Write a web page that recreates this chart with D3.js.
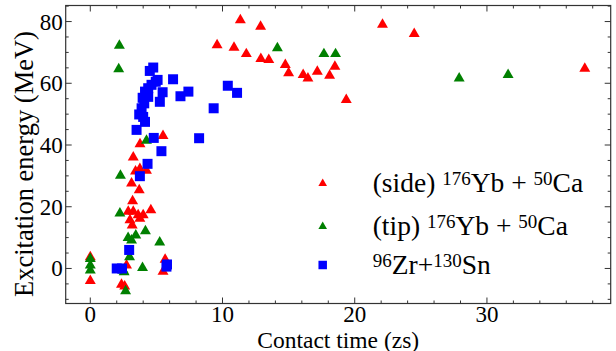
<!DOCTYPE html>
<html>
<head>
<meta charset="utf-8">
<script src="https://cdn.jsdelivr.net/npm/d3@7"></script>
<style>
  html, body { margin: 0; padding: 0; background: #fff; }
  svg { display: block; }
  svg text { font-family: "Liberation Serif", Tinos, "Nimbus Roman", FreeSerif, "DejaVu Serif", serif; }
</style>
</head>
<body>
<svg id="chart" width="616" height="351"></svg>
<script>
// Contact time (zs) vs excitation energy (MeV)
const sideYbCa = [
  [0, 3.7], [0, -4.0], [2.36, -5.2], [2.6, -5.8], [2.74, 1.0], [5.66, 2.9], [5.5, -1.0],
  [3.0, 15.7], [3.17, 14.0], [2.87, 18.4], [3.25, 18.4], [3.62, 17.3], [3.75, 16.2], [4.0, 17.3], [4.58, 18.9],
  [3.2, 21.8], [3.7, 25.4], [3.12, 27.6], [3.42, 31.5], [3.75, 32.3], [4.25, 31.7], [3.25, 36.0],
  [3.76, 40.3], [5.5, 43.0],
  [9.59, 72.4], [10.87, 71.6], [11.35, 80.5], [11.8, 69.5], [12.88, 78.4], [12.9, 67.9], [13.5, 67.6],
  [14.75, 66.0], [15.0, 63.3], [16.1, 62.7], [16.46, 61.6], [17.17, 63.8], [18.1, 62.5], [18.5, 65.4],
  [19.36, 54.6], [22.1, 79.0], [24.5, 76.0], [37.4, 64.8]
];
const tipYbCa = [
  [0, 3.1], [0, 1.0], [0, -0.6], [2.49, -0.6], [2.56, -1.2], [2.67, -7.3], [3.95, 0.2], [2.97, 3.7],
  [2.86, 9.9], [3.44, 10.7], [3.12, 9.1], [4.17, 12.1], [5.25, 8.5], [2.24, 17.9], [2.28, 30.1],
  [4.25, 41.4], [2.15, 64.6], [2.2, 72.2], [14.15, 71.4], [17.67, 69.5], [18.55, 69.5], [27.9, 61.6], [31.6, 62.7]
];
const zrSn = [
  [2.0, 0.0], [2.4, 0.0], [5.76, 0.6], [5.8, 1.3], [2.94, 6.0], [3.75, 29.9], [4.33, 33.9], [5.38, 38.0],
  [4.8, 42.3], [8.23, 42.2], [3.5, 44.9], [4.14, 47.5], [4.0, 49.1], [3.7, 49.9], [3.88, 51.9], [4.08, 53.5],
  [3.96, 55.3], [4.38, 55.6], [4.14, 57.3], [4.38, 58.4], [4.63, 59.5], [4.95, 60.5], [5.09, 61.1],
  [4.5, 64.0], [4.76, 65.1], [5.47, 57.1], [5.26, 54.0], [6.26, 61.3], [7.42, 57.3], [6.82, 55.8],
  [9.33, 51.9], [10.4, 59.2], [11.1, 56.9]
];
const xTicks = [0, 10, 20, 30];
const yTicks = [0, 20, 40, 60, 80];
const xLabel = "Contact time (zs)";
const yLabel = "Excitation energy (MeV)";

const svg = d3.select("#chart");
const pLeft = 65.7, pRight = 610.7, pTop = 5.5, pBottom = 303.5;

const x = d3.scaleLinear().domain([-1.86, 39.36]).range([pLeft, pRight]);
const y = d3.scaleLinear().domain([-11.35, 85.2]).range([pBottom, pTop]);

// frame
svg.append("rect")
  .attr("x", pLeft).attr("y", pTop)
  .attr("width", pRight - pLeft).attr("height", pBottom - pTop)
  .attr("fill", "none").attr("stroke", "#333").attr("stroke-width", 1.2);

// inward ticks on all four sides
const xMinor = d3.range(0, 40, 2).filter(v => !xTicks.includes(v));
const yMinor = d3.range(-10, 86, 5).filter(v => !yTicks.includes(v));
const tickG = svg.append("g").attr("stroke", "#333").attr("stroke-width", 1);
function vt(v, len) {
  tickG.append("line").attr("x1", x(v)).attr("x2", x(v)).attr("y1", pBottom).attr("y2", pBottom - len);
  tickG.append("line").attr("x1", x(v)).attr("x2", x(v)).attr("y1", pTop).attr("y2", pTop + len);
}
function ht(v, len) {
  tickG.append("line").attr("y1", y(v)).attr("y2", y(v)).attr("x1", pLeft).attr("x2", pLeft + len);
  tickG.append("line").attr("y1", y(v)).attr("y2", y(v)).attr("x1", pRight).attr("x2", pRight - len);
}
xTicks.forEach(v => vt(v, 6));
xMinor.forEach(v => vt(v, 3));
yTicks.forEach(v => ht(v, 6));
yMinor.forEach(v => ht(v, 3));

// tick labels
svg.append("g").selectAll("text").data(xTicks).join("text")
  .attr("x", d => x(d)).attr("y", pBottom + 18)
  .attr("text-anchor", "middle").attr("font-size", 23)
  .text(d => d);
svg.append("g").selectAll("text").data(yTicks).join("text")
  .attr("x", pLeft - 3).attr("y", d => y(d) + 8)
  .attr("text-anchor", "end").attr("font-size", 23)
  .text(d => d);

// axis titles
svg.append("text").attr("x", (pLeft + pRight) / 2).attr("y", 347.5)
  .attr("text-anchor", "middle").attr("font-size", 23.5).text(xLabel);
svg.append("text")
  .attr("transform", `translate(33,164) rotate(-90)`)
  .attr("text-anchor", "middle").attr("font-size", 26.5).text(yLabel);

// markers
const tri = d3.symbol().type(d3.symbolTriangle).size(52);
const sq = d3.symbol().type(d3.symbolSquare).size(100);
const marks = svg.append("g");
marks.selectAll("path.side").data(sideYbCa).join("path").attr("class", "side")
  .attr("d", tri).attr("fill", "#ff0000")
  .attr("transform", d => `translate(${x(d[0])},${y(d[1])})`);
marks.selectAll("path.tip").data(tipYbCa).join("path").attr("class", "tip")
  .attr("d", tri).attr("fill", "#008000")
  .attr("transform", d => `translate(${x(d[0])},${y(d[1])})`);
marks.selectAll("path.zr").data(zrSn).join("path").attr("class", "zr")
  .attr("d", sq).attr("fill", "#0000ff")
  .attr("transform", d => `translate(${x(d[0])},${y(d[1])})`);

// legend
const legend = [
  { sym: d3.symbol().type(d3.symbolTriangle).size(32)(), color: "#ff0000",
    parts: [["(side) ", 0], ["176", 1], ["Yb + ", 0], ["50", 1], ["Ca", 0]] },
  { sym: d3.symbol().type(d3.symbolTriangle).size(32)(), color: "#008000",
    parts: [["(tip) ", 0], ["176", 1], ["Yb + ", 0], ["50", 1], ["Ca", 0]] },
  { sym: d3.symbol().type(d3.symbolSquare).size(72)(), color: "#0000ff",
    parts: [["96", 1], ["Zr+", 0], ["130", 1], ["Sn", 0]] }
];
const legendY = [183.5, 226.5, 265];
const lg = svg.append("g");
legend.forEach((item, i) => {
  lg.append("path").attr("d", item.sym).attr("fill", item.color)
    .attr("transform", `translate(322.7,${legendY[i]})`);
  const t = lg.append("text").attr("x", 372.7).attr("y", legendY[i] + 8.5).attr("font-size", 27.5);
  let prevSup = 0;
  item.parts.forEach(([s, sup]) => {
    const dy = sup === prevSup ? 0 : (sup ? -7 : 7);
    t.append("tspan").attr("dy", dy).attr("font-size", sup ? 19 : 27.5).text(s);
    prevSup = sup;
  });
});
</script>
</body>
</html>
